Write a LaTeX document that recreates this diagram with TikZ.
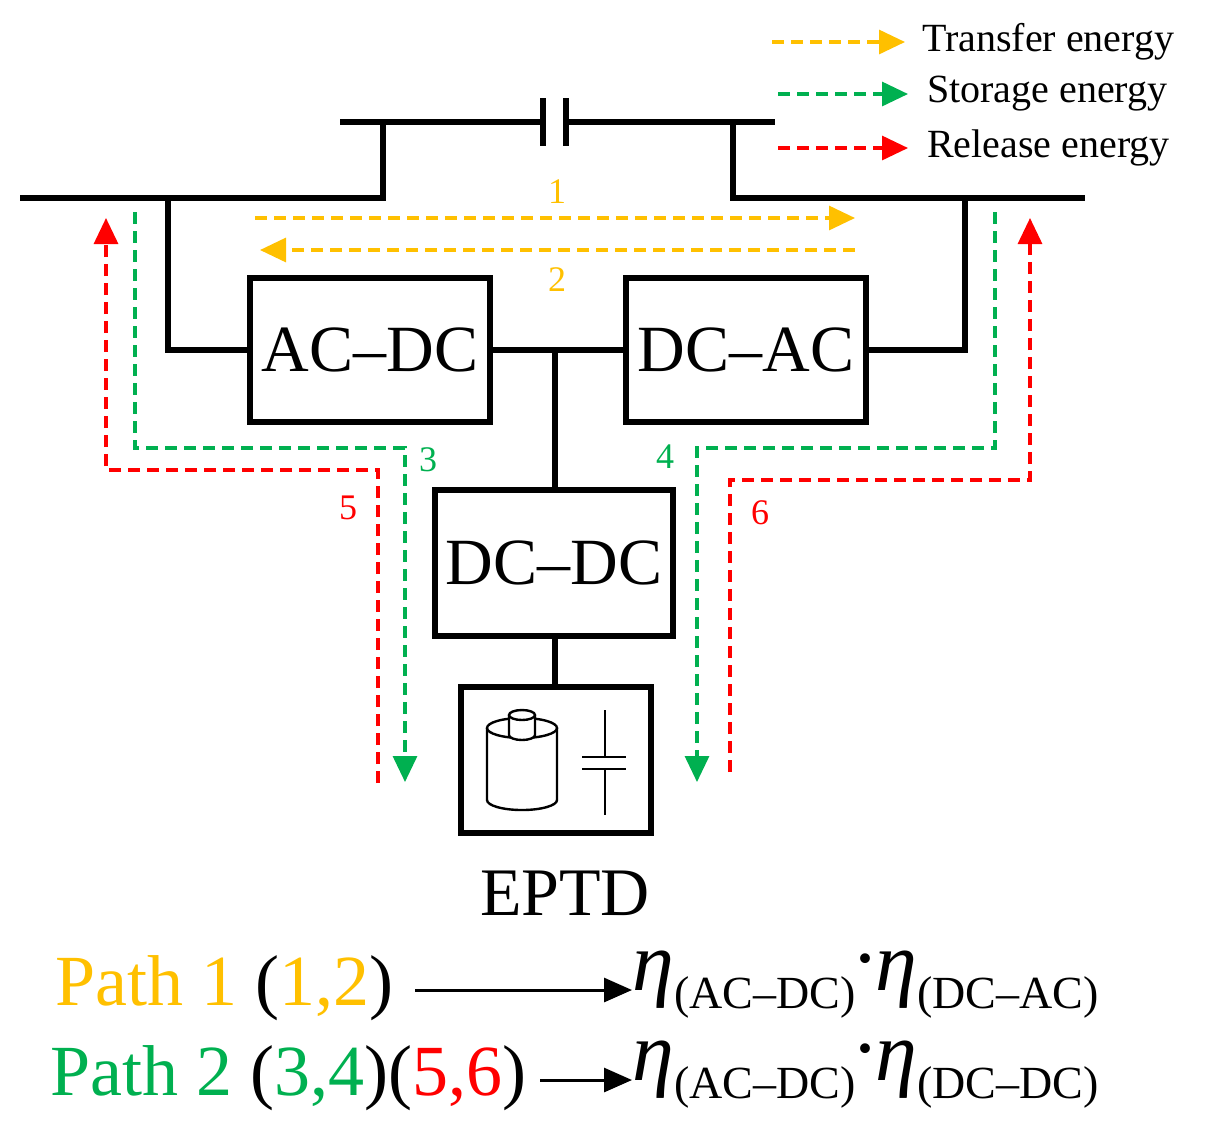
\documentclass[tikz,border=0pt]{standalone}
\usepackage{fontspec}
\setmainfont{Liberation Serif}
\usetikzlibrary{arrows.meta}
\definecolor{pathorange}{HTML}{FFC000}
\definecolor{pathgreen}{HTML}{00B050}
\definecolor{pathred}{HTML}{FF0000}
\newcommand{\fs}[1]{\fontsize{#1}{#1}\selectfont}
\newcommand{\etasub}[1]{{\fs{42}\textit{η}}\raisebox{-9pt}{\fs{23}(#1)}}
\newcommand{\etadot}{\raisebox{6pt}{\fs{30}\textbf{·}}}
\tikzset{
  wire/.style={line width=3pt},
  conv/.style={draw, line width=3pt, minimum width=120pt, minimum height=72pt, inner sep=0pt, font=\fs{33}},
  flow/.style={dash pattern=on 6pt off 3.5pt, line width=1.6pt, -{Triangle[length=13pt,width=12pt]}},
  num/.style={font=\fs{18}},
  legend/.style={font=\fs{20}, anchor=west}
}
\begin{document}
\begin{tikzpicture}[x=0.5pt, y=-0.5pt]
        \useasboundingbox (0,0) rectangle (1230,1137);
        % Buses and coupling capacitor
        \coordinate (capL) at (543,122);
        \coordinate (capR) at (566,122);
        \draw[wire] (340,122) -- (capL);
        \draw[wire] (capR) -- (775,122);
        \draw[wire] (543,98) -- (543,146);
        \draw[wire] (566,98) -- (566,146);
        \draw[wire] (383,122) -- (383,198) -- (20,198);
        \draw[wire] (733,122) -- (733,198) -- (1085,198);
        % Converters
        \node[conv] (acdc) at (370,350) {AC--DC};
        \node[conv] (dcac) at (746,350) {DC--AC};
        \node[conv, minimum width=119pt, minimum height=73pt] (dcdc) at (554,563) {DC--DC};
        \node[draw, line width=3pt, minimum width=95pt, minimum height=73pt, inner sep=0pt] (eptd) at (556,760) {};
        \node[font=\fs{34}] (eptdlab) at (565,893) {EPTD};
        % Connections
        \draw[wire] (168,198) |- (acdc.west);
        \draw[wire] (965,198) |- (dcac.east);
        \draw[wire] (acdc.east) -- (dcac.west);
        \coordinate (mid) at (555,350);
        \draw[wire] (mid) -- (dcdc.north -| mid);
        \draw[wire] (dcdc.south -| mid) -- (eptd.north -| mid);
        % Storage device icon
        \draw[line width=1.2pt] (487,728) -- (487,800) arc[start angle=180, end angle=360, x radius=17.5pt, y radius=5pt] -- (557,728);
        \draw[line width=1.2pt] (522,728) ellipse[x radius=17.5pt, y radius=5pt];
        \draw[line width=1.2pt, fill=white] (509,715) -- (509,735) arc[start angle=180, end angle=360, x radius=6.5pt, y radius=2.5pt] -- (535,715);
        \draw[line width=1.2pt] (522,715) ellipse[x radius=6.5pt, y radius=2.5pt];
        \draw[line width=1.2pt] (605,710) -- (605,757) (582,757) -- (626,757) (582,769) -- (626,769) (605,769) -- (605,815);
        % Transfer paths
        \draw[flow, pathorange] (255,218) -- (855,218);
        \draw[flow, pathorange] (855,250) -- (260,250);
        \node[num, pathorange] (n1) at (557,192) {1};
        \node[num, pathorange] (n2) at (557,280) {2};
        % Storage and release paths
        \draw[flow, pathgreen] (135,212) |- (405,448) -- (405,782);
        \draw[flow, pathred] (378,783) |- (106,470) -- (106,218);
        \draw[flow, pathgreen] (995,212) |- (697,448) -- (697,782);
        \draw[flow, pathred] (730,772) |- (1030,480) -- (1030,218);
        \node[num, pathgreen] (n3) at (428,460) {3};
        \node[num, pathgreen] (n4) at (665,457) {4};
        \node[num, pathred] (n5) at (348,508) {5};
        \node[num, pathred] (n6) at (760,513) {6};
        % Legend
        \draw[flow, pathorange] (772,42) -- (905,42);
        \draw[flow, pathgreen] (778,94) -- (908,94);
        \draw[flow, pathred] (778,148) -- (908,148);
        \node[legend] (lt) at (915,42) {Transfer energy};
        \node[legend] (ls) at (920,94) {Storage energy};
        \node[legend] (lr) at (920,148) {Release energy};
        % Efficiency of the paths
        \node[anchor=west, font=\fs{36}, inner sep=0pt] (p1) at (55,988) {\textcolor{pathorange}{Path 1} (\textcolor{pathorange}{1,2})};
        \node[anchor=west, inner sep=0pt] (e1) at (632,985) {\etasub{AC–DC}\etadot\etasub{DC–AC}};
        \draw[line width=1.5pt, -{Triangle[length=14pt,width=12pt]}] (415,990) -- (e1.west |- 0,990);
        \node[anchor=west, font=\fs{36}, inner sep=0pt] (p2) at (50,1078) {\textcolor{pathgreen}{Path 2} (\textcolor{pathgreen}{3,4})(\textcolor{pathred}{5,6})};
        \node[anchor=west, inner sep=0pt] (e2) at (632,1075) {\etasub{AC–DC}\etadot\etasub{DC–DC}};
        \draw[line width=1.5pt, -{Triangle[length=14pt,width=12pt]}] (540,1080) -- (e2.west |- 0,1080);
      \end{tikzpicture}
\end{document}
